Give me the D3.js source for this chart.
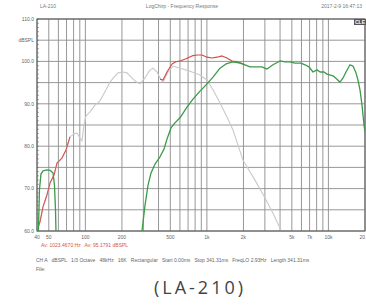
<!DOCTYPE html>
<html>
<head>
<meta charset="utf-8">
<script src="https://cdn.jsdelivr.net/npm/d3@7"></script>
<style>
  body { margin: 0; background: #fff; }
  svg { display: block; }
  text { font-family: "Liberation Sans", Arial, sans-serif; }
</style>
</head>
<body>
<div id="chart"></div>
<script>
  // chart values
  var yTickValues = [110, 105, 100, 90, 80, 70, 60];
  var yTickLabels = ["110.0", "dBSPL", "100.0", "90.0", "80.0", "70.0", "60.0"];
  var xTickValues = [40, 50, 100, 200, 500, 1000, 2000, 5000, 7000, 10000, 20000];
  var xTickLabels = ["40", "50", "100", "200", "500", "1k", "2k", "5k", "7k", "10k", "20"];

  // woofer (gray)
  var grayFreq = [40, 42.3, 44.8, 48.3, 51.2, 55.2, 58.4, 64.2, 69.3, 74.7, 80.6, 85.4, 90.3, 93.8,
    97.4, 101.1, 109.2, 120, 132, 147.8, 159.5, 172.1, 185.6, 204.1, 220.2, 237.5, 256.2, 281.7,
    309.7, 340.5, 360.3, 388.8, 411.3, 435.4, 478.6, 525.8, 600.6, 726, 877.6, 1002.6, 1123, 1282,
    1464, 1640, 1982, 2488, 3007, 3500, 4072];
  var grayDb = [60.2, 62.1, 65.7, 68.5, 71.3, 73.2, 76.0, 77.2, 79.1, 82.2, 82.9, 83.1, 81.9, 81.2,
    85.0, 87.1, 88.1, 89.7, 90.7, 93.3, 95.1, 96.3, 97.3, 97.5, 97.3, 96.3, 95.4, 94.7,
    96.1, 98.0, 98.4, 97.5, 96.1, 95.1, 97.5, 98.9, 98.4, 97.7, 96.8, 95.6, 93.3, 90.2,
    86.9, 83.8, 76.7, 72.0, 67.8, 64.2, 60.2];

  // combined (red), two visible pieces
  var redLowFreq = [40, 42.3, 44.8, 48.3, 51.2, 55.2, 58.4, 64.2, 69.3, 74.7];
  var redLowDb = [60.2, 62.1, 65.7, 68.5, 71.3, 73.2, 76.0, 77.2, 79.1, 82.2];
  var redMidFreq = [411.3, 435.4, 469.6, 516.3, 556.6, 600.6, 672.9, 754, 829.1, 911.5, 1002.6,
    1101.9, 1211, 1332, 1464, 1609, 1769, 1908, 2058];
  var redMidDb = [95.8, 95.6, 97.5, 99.4, 99.9, 100.1, 100.6, 101.3, 101.5, 101.5, 101.0,
    100.8, 101.0, 101.3, 100.8, 100.1, 99.9, 99.6, 99.2];

  // tweeter (green)
  var greenFreq = [292.5, 309.7, 327.9, 347, 374.3, 411.3, 443.7, 469.6, 506.8, 546.2, 600.6, 686,
    768.5, 877.6, 1002.6, 1123, 1282, 1436, 1640, 1872, 2058, 2263, 2536, 2841, 3123, 3500, 3996,
    4393, 4830, 5309, 5946, 6417, 6923, 7467, 8056, 8528, 9200, 9737, 10910, 11770, 12460, 13190,
    13950, 15050, 15930, 16860, 17510, 18190, 18900, 19620, 20000];
  var greenDb = [60, 66.1, 70.8, 73.7, 75.8, 77.5, 79.3, 81.7, 84.3, 85.5, 86.7, 89.2,
    91.1, 93.0, 94.7, 96.3, 98.4, 99.4, 99.9, 99.6, 99.2, 98.7, 98.7, 98.7, 98.2, 99.2, 100.1,
    99.9, 99.9, 99.6, 99.6, 99.2, 98.7, 97.5, 98.0, 97.5, 97.5, 97.0, 96.6, 95.8, 95.1, 96.1,
    97.5, 99.2, 98.9, 97.3, 95.6, 93.3, 89.7, 85.0, 83.3];
  var greenLowFreq = [41.1, 41.9, 43.1, 44.8, 48.3, 51.2, 54.2, 55.7, 56.8, 57.3];
  var greenLowDb = [60, 69.7, 73.4, 74.2, 74.4, 74.3, 73.7, 70.8, 65.0, 60];

  var W = 366, H = 305;
  var plot = {left: 37, right: 365, top: 19, bottom: 231};

  var x = d3.scaleLog().domain([40, 20000]).range([plot.left, plot.right]);
  var y = d3.scaleLinear().domain([60, 110]).range([plot.bottom, plot.top]);

  var svg = d3.select("#chart").append("svg")
    .attr("width", W)
    .attr("height", H);

  svg.append("clipPath").attr("id", "clip")
    .append("rect")
    .attr("x", plot.left).attr("y", plot.top)
    .attr("width", plot.right - plot.left).attr("height", plot.bottom - plot.top);

  // header texts
  svg.append("text").attr("x", 40).attr("y", 8).attr("font-size", 5).attr("fill", "#777").text("LA-210");
  svg.append("text").attr("x", 182).attr("y", 8).attr("font-size", 5).attr("fill", "#777")
    .attr("text-anchor", "middle").text("LogChirp - Frequency Response");
  svg.append("text").attr("x", 362).attr("y", 8).attr("font-size", 5).attr("fill", "#777")
    .attr("text-anchor", "end").text("2017-2-9 16:47:13");

  // grid
  var grid = svg.append("g");
  grid.selectAll("line.v")
    .data(x.ticks())
    .enter().append("line")
    .attr("class", "v")
    .attr("x1", function (d) { return x(d); })
    .attr("x2", function (d) { return x(d); })
    .attr("y1", plot.top).attr("y2", plot.bottom)
    .attr("stroke", "#8c8c8c").attr("stroke-width", 0.9);

  grid.selectAll("line.h")
    .data(d3.range(60, 111, 5))
    .enter().append("line")
    .attr("class", "h")
    .attr("x1", plot.left).attr("x2", plot.right)
    .attr("y1", function (d) { return y(d); })
    .attr("y2", function (d) { return y(d); })
    .attr("stroke", "#8c8c8c").attr("stroke-width", 0.9);

  // minor ticks on the left axis
  grid.selectAll("line.minor")
    .data(d3.range(60, 111, 1))
    .enter().append("line")
    .attr("class", "minor")
    .attr("x1", plot.left).attr("x2", plot.left + 2)
    .attr("y1", function (d) { return y(d); })
    .attr("y2", function (d) { return y(d); })
    .attr("stroke", "#777").attr("stroke-width", 0.6);

  // frame
  svg.append("rect")
    .attr("x", plot.left).attr("y", plot.top)
    .attr("width", plot.right - plot.left).attr("height", plot.bottom - plot.top)
    .attr("fill", "none").attr("stroke", "#555").attr("stroke-width", 1);

  // y labels
  svg.selectAll("text.ylab")
    .data(yTickValues)
    .enter().append("text")
    .attr("class", "ylab")
    .attr("x", plot.left - 3)
    .attr("y", function (d) { return y(d) + 1.8; })
    .attr("text-anchor", "end")
    .attr("font-size", 5).attr("fill", "#666")
    .text(function (d, i) { return yTickLabels[i]; });

  // x labels
  svg.selectAll("text.xlab")
    .data(xTickValues)
    .enter().append("text")
    .attr("class", "xlab")
    .attr("x", function (d) { return x(d); })
    .attr("y", 239)
    .attr("text-anchor", function (d) { return d === 20000 ? "end" : "middle"; })
    .attr("font-size", 5).attr("fill", "#666")
    .text(function (d, i) { return xTickLabels[i]; });

  // curves
  var line = d3.line()
    .x(function (d) { return x(d[0]); })
    .y(function (d) { return y(d[1]); });

  function addCurve(freq, db, color, width) {
    svg.append("path")
      .datum(freq.map(function (f, i) { return [f, db[i]]; }))
      .attr("clip-path", "url(#clip)")
      .attr("fill", "none")
      .attr("stroke", color)
      .attr("stroke-width", width)
      .attr("stroke-linejoin", "round")
      .attr("d", line);
  }

  addCurve(grayFreq, grayDb, "#c9c9c9", 1.1);
  addCurve(redLowFreq, redLowDb, "#d9534f", 1.1);
  addCurve(redMidFreq, redMidDb, "#d24a45", 1.1);
  addCurve(greenLowFreq, greenLowDb, "#3c9a48", 1.3);
  addCurve(greenFreq, greenDb, "#3c9a48", 1.3);

  // little legend tag at the top-right corner
  svg.append("rect").attr("x", 354).attr("y", plot.top).attr("width", 12).attr("height", 6).attr("fill", "#555");
  svg.append("text").attr("x", 355).attr("y", plot.top + 4.8).attr("font-size", 5)
    .attr("font-weight", "bold").attr("fill", "#fff").text("CLE");

  // footer texts
  svg.append("text").attr("x", 41).attr("y", 247).attr("font-size", 5).attr("fill", "#d9534f")
    .attr("xml:space", "preserve")
    .text("Av: 1023.4670 Hz   Av: 95.1791 dBSPL");
  svg.append("text").attr("x", 36).attr("y", 262).attr("font-size", 5).attr("fill", "#666")
    .attr("xml:space", "preserve")
    .text("CH A   dBSPL   1/3 Octave   48kHz   16K   Rectangular   Start 0.00ms   Stop 341.31ms   FreqLO 2.93Hz   Length 341.31ms");
  svg.append("text").attr("x", 36).attr("y", 271).attr("font-size", 5).attr("fill", "#666").text("File:");

  svg.append("text").attr("x", 200).attr("y", 294)
    .attr("text-anchor", "middle")
    .attr("font-size", 18).attr("fill", "#444")
    .attr("letter-spacing", 3)
    .style("font-family", "'Open Sans', sans-serif")
    .text("(LA-210)");
</script>
</body>
</html>
